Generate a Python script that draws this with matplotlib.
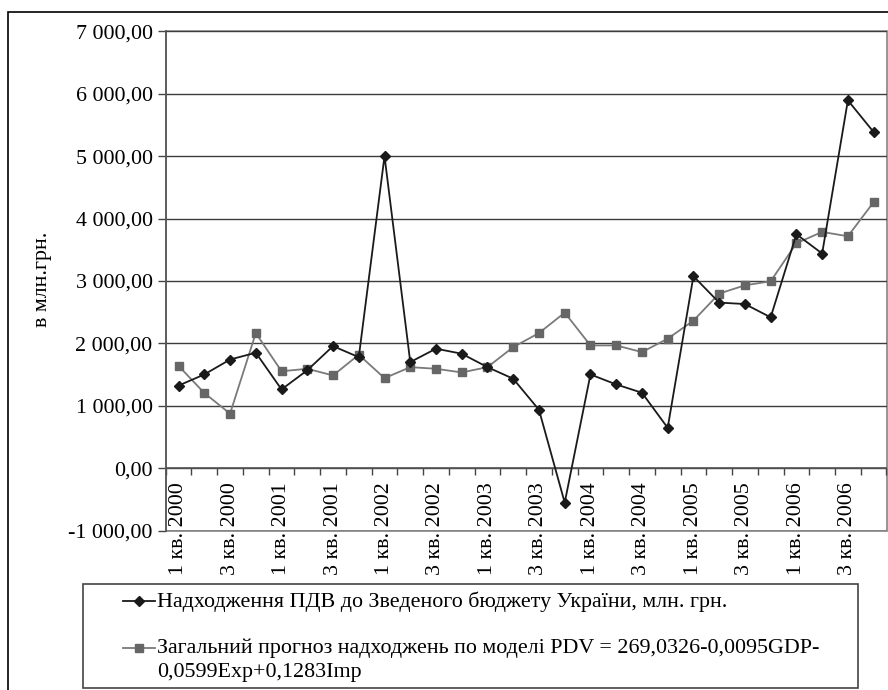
import numpy as np
import matplotlib
matplotlib.use("Agg")
import matplotlib.pyplot as plt
from matplotlib.lines import Line2D
from matplotlib.patches import Rectangle
from matplotlib.ticker import FuncFormatter

plt.rcParams['font.family'] = ['Liberation Serif', 'DejaVu Serif']

# Quarterly categories, 2000-2006
quarters = [
    "1 кв. 2000", "2 кв. 2000", "3 кв. 2000", "4 кв. 2000",
    "1 кв. 2001", "2 кв. 2001", "3 кв. 2001", "4 кв. 2001",
    "1 кв. 2002", "2 кв. 2002", "3 кв. 2002", "4 кв. 2002",
    "1 кв. 2003", "2 кв. 2003", "3 кв. 2003", "4 кв. 2003",
    "1 кв. 2004", "2 кв. 2004", "3 кв. 2004", "4 кв. 2004",
    "1 кв. 2005", "2 кв. 2005", "3 кв. 2005", "4 кв. 2005",
    "1 кв. 2006", "2 кв. 2006", "3 кв. 2006", "4 кв. 2006",
]

# Actual VAT receipts to the consolidated budget, mln UAH
vat_receipts = [1325, 1503, 1742, 1851, 1263, 1570, 1957, 1780,
                5000, 1701, 1916, 1835, 1620, 1434, 937, -550,
                1503, 1343, 1210, 648, 3076, 2654, 2631, 2418,
                3749, 3440, 5894, 5386]

# Model forecast: PDV = 269,0326 - 0,0095GDP - 0,0599Exp + 0,1283Imp
vat_forecast = [1640, 1206, 875, 2166, 1554, 1594, 1487, 1819,
                1444, 1620, 1594, 1535, 1620, 1941, 2166, 2493,
                1968, 1968, 1861, 2076, 2365, 2798, 2931, 2995,
                3605, 3786, 3717, 4263]

y_ticks = [-1000, 0, 1000, 2000, 3000, 4000, 5000, 6000, 7000]

label_actual = "Надходження ПДВ до Зведеного бюджету України, млн. грн."
label_model = ("Загальний прогноз надходжень по моделі PDV = 269,0326-0,0095GDP-\n"
               "0,0599Exp+0,1283Imp")

W, H = 888, 690
FS = 15.8
fig = plt.figure(figsize=(W / 100, H / 100), dpi=100)
fig.patch.set_facecolor('white')


def px(x, y):
    """Pixel position (from top-left) to figure fraction."""
    return x / W, 1 - y / H


ax = fig.add_axes([165.7 / W, 1 - 530.7 / H, (886.5 - 165.7) / W, (530.7 - 31.3) / H])

x = np.arange(len(quarters))
ax.plot(x, vat_forecast, color='#7a7a7a', lw=1.3, marker='s', ms=6.2,
        mfc='#666666', mec='#666666', zorder=3)
ax.plot(x, vat_receipts, color='#1a1a1a', lw=1.3, marker='D', ms=5.6,
        mfc='#1a1a1a', mec='#1a1a1a', zorder=4)

ax.set_xlim(-0.5, len(quarters) - 0.5)
ax.set_ylim(-1000, 7000)

# y axis
ax.set_yticks(y_ticks)
ax.yaxis.set_major_formatter(FuncFormatter(
    lambda v, p: f"{v:,.2f}".replace(",", " ").replace(".", ",")))
ax.tick_params(axis='y', direction='out', length=5.5, width=1, color='#444444',
               labelsize=FS, pad=4)
ax.grid(axis='y', color='#3c3c3c', lw=1.0, zorder=1)

# category axis crossing at zero
ax.spines['bottom'].set_position(('data', 0))
for side in ('top', 'right'):
    ax.spines[side].set_visible(False)
ax.spines['left'].set_color('#555555')
ax.spines['left'].set_linewidth(1.2)
ax.spines['bottom'].set_color('#555555')
ax.spines['bottom'].set_linewidth(1.2)
ax.set_xticks(np.arange(-0.5, len(quarters), 1))
ax.set_xticklabels([])
ax.tick_params(axis='x', which='major', direction='out', length=5, width=1,
               color='#444444')
ax.set_xticks(x[::2], minor=True)
ax.set_xticklabels(quarters[::2], minor=True, rotation=90, va='bottom',
                   fontsize=FS)
ax.tick_params(axis='x', which='minor', length=0, pad=77)

# plot-area frame
ax.add_patch(Rectangle((0, 0), 1, 1, transform=ax.transAxes, fill=False,
                       edgecolor='#8c8c8c', lw=1.3, clip_on=False, zorder=0))

# y axis title
fig.text(*px(43, 279), "в млн.грн.", rotation=90, ha='center', va='center',
         fontsize=FS)

# chart border
fig.add_artist(Rectangle(px(8, 740), 1.2, (740 - 12) / H, transform=fig.transFigure,
                         fill=False, edgecolor='black', lw=1.2))

# legend
lx0, ly0 = px(83, 688)
fig.add_artist(Rectangle((lx0, ly0), (858 - 83) / W, (688 - 584) / H,
                         transform=fig.transFigure, fill=False,
                         edgecolor='#444444', lw=1.2))
for ymark, col, mk, ms in ((601, '#1a1a1a', 'D', 5.0), (648, '#666666', 's', 5.6)):
    xs = [px(122.7, 0)[0], px(139, 0)[0], px(155, 0)[0]]
    yy = px(0, ymark)[1]
    fig.add_artist(Line2D(xs, [yy] * 3, transform=fig.transFigure,
                          color='#1a1a1a' if mk == 'D' else '#7a7a7a', lw=1.3,
                          marker=mk, markevery=[1], ms=ms, mfc=col, mec=col))
fig.text(*px(157.3, 607), label_actual, ha='left', va='baseline', fontsize=FS)
fig.text(*px(157.3, 639), label_model, ha='left', va='top', fontsize=FS,
         linespacing=1.3)

fig.savefig("out.png", dpi=100, facecolor='white')
